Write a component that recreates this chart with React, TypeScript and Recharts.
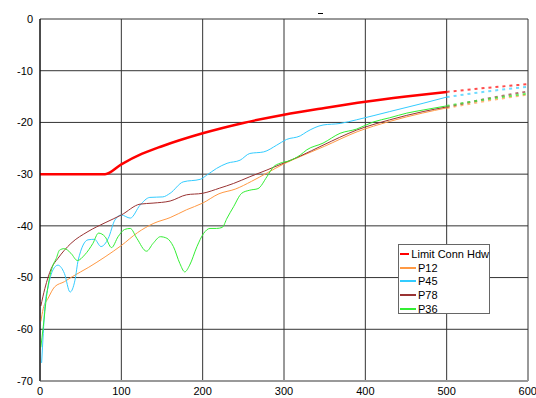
import * as React from "react";
import { LineChart, Line, XAxis, YAxis, CartesianGrid } from "recharts";

// frequency (MHz) / value (dB) pairs
type Pt = { f: number; v: number };
const pts = (a: number[][]): Pt[] => a.map(([f, v]) => ({ f, v }));

const xTicks = [0, 100, 200, 300, 400, 500, 600];
const yTicks = [-70, -60, -50, -40, -30, -20, -10, 0];

const limit = pts([
  [0, -30], [80, -30], [100, -28.1], [125, -26.1], [150, -24.6], [200, -22.1],
  [250, -20.1], [300, -18.5], [350, -17.2], [400, -16.0], [450, -15.0], [500, -14.1],
]);
const limitExt = pts([[500, -14.1], [550, -13.3], [600, -12.6]]);

const p12 = pts([
  [1, -58.5], [4, -56], [10, -54], [18, -51.8], [30, -50.8], [40, -49.8], [60, -48],
  [80, -46], [100, -43.8], [120, -41.3], [140, -39.5], [160, -38.4], [180, -36.9],
  [200, -35.6], [220, -33.8], [240, -32.9], [260, -31.4], [280, -29.7], [300, -28.0],
  [320, -26.6], [350, -24.6], [390, -21.8], [430, -19.8], [470, -18.2], [500, -17.2],
]);
const p12Ext = pts([[500, -17.2], [550, -15.8], [600, -14.6]]);

const p45 = pts([
  [2, -66.5], [4, -60.8], [6, -55.6], [10, -51.8], [16, -48.5], [22, -47.6], [30, -49.2],
  [37, -52.8], [43, -50.5], [47, -46.6], [59, -42.7], [67, -42.6], [75, -44], [84, -42.4],
  [92, -38.9], [100, -37.9], [111, -38.5], [123, -36], [135, -34.5], [151, -34.4],
  [160, -33.7], [176, -31.5], [197, -31.0], [205, -30.2], [217, -28.9], [230, -27.9],
  [246, -27.3], [258, -26.0], [275, -25.7], [291, -24.4], [303, -23.3], [320, -22.6],
  [328, -21.8], [348, -20.5], [369, -20.2], [389, -19.5], [430, -17.9], [471, -16.3],
  [500, -15.1],
]);
const p45Ext = pts([[500, -15.1], [550, -14.0], [600, -13.1]]);

const p78 = pts([
  [1, -55.5], [6, -52.1], [14, -48.2], [22, -46.3], [38, -43.4], [59, -41.1], [80, -39.4],
  [100, -37.9], [123, -35.8], [139, -35.6], [160, -35.2], [180, -34.0], [200, -33.7],
  [221, -32.7], [238, -31.8], [258, -30.5], [279, -29.2], [299, -27.9], [320, -26.5],
  [348, -24.4], [389, -21.5], [430, -19.5], [471, -17.9], [500, -17.0],
]);
const p78Ext = pts([[500, -17.0], [550, -15.4], [600, -14.0]]);

const p36 = pts([
  [1, -63.5], [4, -59.5], [8, -53.7], [12, -49.8], [16, -47.6], [20, -46.3], [24, -44.7],
  [30, -44.4], [38, -45.3], [46, -46.7], [55, -45.6], [65, -43.4], [72, -41.4], [80, -42.1],
  [88, -44.2], [96, -42.1], [104, -40.7], [111, -40.5], [119, -42.4], [131, -44.9],
  [139, -43.4], [148, -42.1], [156, -42.4], [164, -44], [172, -47.3], [178, -48.9],
  [184, -47.6], [193, -44], [201, -41.5], [209, -40.5], [217, -40.5], [224, -40.3],
  [230, -38.5], [238, -36.3], [248, -33.7], [258, -33.1], [268, -32.8], [279, -30.5],
  [287, -28.6], [295, -27.9], [307, -27.4], [320, -26.3], [328, -25.3], [348, -24.0],
  [369, -22.1], [389, -21.3], [410, -19.9], [430, -19.1], [451, -18.2], [471, -17.6],
  [500, -16.8],
]);
const p36Ext = pts([[500, -16.8], [550, -15.5], [600, -14.4]]);

const series = [
  { name: "Limit Conn Hdw", color: "#ff0000", width: 2.5, data: limit, ext: limitExt },
  { name: "P12", color: "#ff9944", width: 1, data: p12, ext: p12Ext },
  { name: "P45", color: "#33ccff", width: 1, data: p45, ext: p45Ext },
  { name: "P78", color: "#993333", width: 1, data: p78, ext: p78Ext },
  { name: "P36", color: "#33ee33", width: 1, data: p36, ext: p36Ext },
];

const font = "'Liberation Sans', Arial, sans-serif";

export default function App() {
  return (
    <div style={{ position: "absolute", left: 0, top: 0, width: 536, height: 398, background: "#fff", fontFamily: font }}>
      <LineChart width={536} height={398} margin={{ top: 19, right: 8, bottom: 0, left: 0 }}>
        <CartesianGrid stroke="#333" strokeWidth={1} horizontalValues={yTicks} verticalValues={xTicks} />
        <XAxis
          type="number"
          dataKey="f"
          domain={[0, 600]}
          ticks={xTicks}
          height={17}
          tickSize={0}
          tickMargin={6}
          axisLine={{ stroke: "#999", strokeWidth: 2 }}
          tick={{ fontSize: 11, fill: "#000", fontFamily: font }}
          allowDataOverflow
        />
        <YAxis
          type="number"
          dataKey="v"
          domain={[-70, 0]}
          ticks={yTicks}
          width={40}
          tickSize={0}
          tickMargin={7}
          axisLine={{ stroke: "#000", strokeWidth: 1 }}
          tick={{ fontSize: 11, fill: "#000", fontFamily: font }}
        />
        {series.map((s) => (
          <Line
            key={s.name}
            data={s.data}
            dataKey="v"
            type="monotone"
            stroke={s.color}
            strokeWidth={s.width}
            dot={false}
            isAnimationActive={false}
          />
        ))}
        {series.map((s) => (
          <Line
            key={s.name + "-ext"}
            data={s.ext}
            dataKey="v"
            type="monotone"
            stroke={s.color}
            strokeOpacity={0.7}
            strokeWidth={2}
            strokeDasharray="3 4"
            dot={false}
            legendType="none"
            isAnimationActive={false}
          />
        ))}
      </LineChart>
      <div style={{ position: "absolute", left: 318, top: 13, width: 5, height: 1, background: "#000" }} />
      <div
        style={{
          position: "absolute",
          left: 398,
          top: 244,
          width: 92,
          height: 70,
          border: "1px solid #666",
          background: "#fff",
          boxSizing: "border-box",
          padding: "2px 0 0 1px",
        }}
      >
        {series.map((s) => (
          <div key={s.name} style={{ display: "flex", alignItems: "center", height: 13.7, fontSize: 11 }}>
            <span style={{ display: "inline-block", width: 16, height: 2, background: s.color, marginRight: 2 }} />
            <span style={{ color: "#000", whiteSpace: "nowrap" }}>{s.name}</span>
          </div>
        ))}
      </div>
    </div>
  );
}
